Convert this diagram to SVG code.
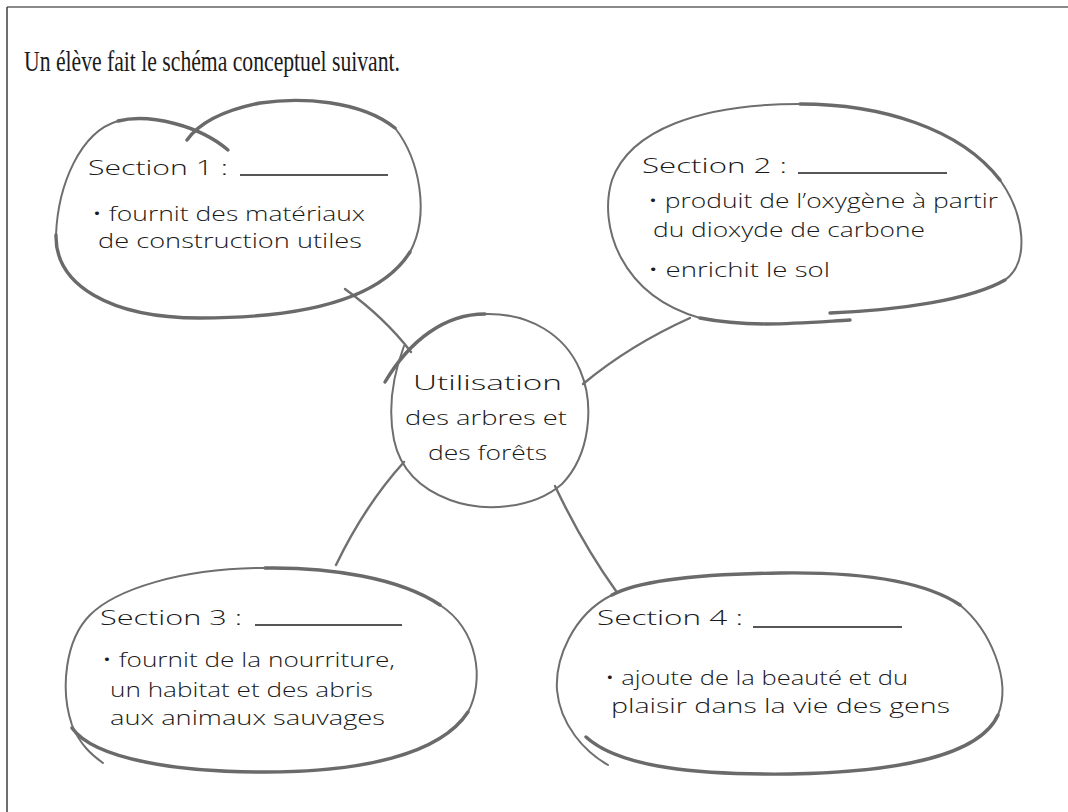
<svg xmlns="http://www.w3.org/2000/svg" width="1068" height="812" viewBox="0 0 1068 812">
  <style>
    .title { font-family: "Liberation Serif", serif; font-size: 30px; fill: #1a1a1a; }
    .hand { font-family: "Open Sans", "Noto Sans", sans-serif; font-weight: 300; font-size: 21px; fill: #1a1a1a; }
    .outline { fill: none; stroke: #6e6e6e; stroke-width: 2; stroke-linecap: round; }
    .heavy { fill: none; stroke: #6a6a6a; stroke-width: 3.4; stroke-linecap: round; }
    .link { fill: none; stroke: #707070; stroke-width: 2.4; stroke-linecap: round; }
    .blank { stroke: #1e1e1e; stroke-width: 1.5; }
  </style>

  <rect width="1068" height="812" fill="#ffffff"/>

  <!-- page frame: top and left rules -->
  <line x1="7" y1="7" x2="1068" y2="7" stroke="#8a8a8a" stroke-width="2"/>
  <line x1="7" y1="7" x2="7" y2="812" stroke="#4a4a4a" stroke-width="1.6"/>

  <text class="title" x="24" y="71" textLength="376" lengthAdjust="spacingAndGlyphs">Un élève fait le schéma conceptuel suivant.</text>

  <!-- connectors between the centre and each section -->
  <g id="connectors">
    <path class="link" d="M 345,289 Q 385,318 411,352"/>
    <path class="link" d="M 583,384 Q 630,345 690,318"/>
    <path class="link" d="M 404,462 Q 365,505 336,565"/>
    <path class="link" d="M 555,486 Q 583,545 616,591"/>
  </g>

  <!-- centre -->
  <g id="centre">
    <path class="heavy" d="M 385,382 C 410,340 445,314 485,314"/>
    <path class="outline" d="M 485,314 C 530,313 565,335 580,370 C 595,405 590,455 562,484 C 532,510 482,512 450,500 C 418,488 400,468 394,440 C 388,410 392,378 404,346"/>
    <text class="hand" x="413" y="390" textLength="149" lengthAdjust="spacingAndGlyphs">Utilisation</text>
    <text class="hand" x="405" y="425" textLength="162" lengthAdjust="spacingAndGlyphs">des arbres et</text>
    <text class="hand" x="428" y="460" textLength="119" lengthAdjust="spacingAndGlyphs">des forêts</text>
  </g>

  <!-- section 1 -->
  <g id="section1">
    <path class="heavy" d="M 228,150 C 200,126 150,113 118,121"/>
    <path class="outline" d="M 118,121 C 80,132 58,185 56,235"/>
    <path class="heavy" d="M 56,235 C 55,285 110,318 200,318 C 300,318 380,300 410,252"/>
    <path class="outline" d="M 410,252 C 430,215 420,160 395,128"/>
    <path class="heavy" d="M 395,128 C 360,100 300,97 260,103 C 225,110 200,122 187,140"/>
    <text class="hand" x="88" y="175" textLength="140" lengthAdjust="spacingAndGlyphs">Section 1 :</text>
    <line class="blank" x1="240" y1="175" x2="388" y2="175"/>
    <text class="hand" x="92" y="221" textLength="273" lengthAdjust="spacingAndGlyphs">• fournit des matériaux</text>
    <text class="hand" x="98" y="248" textLength="264" lengthAdjust="spacingAndGlyphs">de construction utiles</text>
  </g>

  <!-- section 2 -->
  <g id="section2">
    <path class="heavy" d="M 830,313 C 900,310 970,300 1005,280"/>
    <path class="outline" d="M 1005,280 C 1030,262 1025,215 1000,180"/>
    <path class="heavy" d="M 1000,180 C 960,128 880,104 800,104"/>
    <path class="outline" d="M 800,104 C 700,104 630,130 612,180 C 598,225 620,295 700,318"/>
    <path class="heavy" d="M 700,318 C 750,328 800,323 850,320"/>
    <text class="hand" x="642" y="173" textLength="145" lengthAdjust="spacingAndGlyphs">Section 2 :</text>
    <line class="blank" x1="798" y1="173" x2="947" y2="173"/>
    <text class="hand" x="648" y="208" textLength="350" lengthAdjust="spacingAndGlyphs">• produit de l’oxygène à partir</text>
    <text class="hand" x="653" y="237" textLength="272" lengthAdjust="spacingAndGlyphs">du dioxyde de carbone</text>
    <text class="hand" x="648" y="277" textLength="182" lengthAdjust="spacingAndGlyphs">• enrichit le sol</text>
  </g>

  <!-- section 3 -->
  <g id="section3">
    <path class="heavy" d="M 72,728 C 95,760 180,772 265,772 C 360,772 440,755 468,712"/>
    <path class="outline" d="M 468,712 C 485,680 478,630 440,605"/>
    <path class="heavy" d="M 440,605 C 400,578 330,567 265,568"/>
    <path class="outline" d="M 265,568 C 180,568 115,590 90,615 C 65,640 60,690 72,725 C 80,745 92,755 103,763"/>
    <text class="hand" x="100" y="625" textLength="142" lengthAdjust="spacingAndGlyphs">Section 3 :</text>
    <line class="blank" x1="255" y1="625" x2="402" y2="625"/>
    <text class="hand" x="102" y="667" textLength="293" lengthAdjust="spacingAndGlyphs">• fournit de la nourriture,</text>
    <text class="hand" x="110" y="697" textLength="263" lengthAdjust="spacingAndGlyphs">un habitat et des abris</text>
    <text class="hand" x="110" y="725" textLength="275" lengthAdjust="spacingAndGlyphs">aux animaux sauvages</text>
  </g>

  <!-- section 4 -->
  <g id="section4">
    <path class="heavy" d="M 586,737 C 620,768 700,775 790,774 C 900,772 980,755 998,715"/>
    <path class="outline" d="M 998,715 C 1012,680 990,630 960,605"/>
    <path class="heavy" d="M 960,605 C 920,578 850,572 780,573 C 700,574 640,580 612,595"/>
    <path class="outline" d="M 612,595 C 572,615 555,660 557,690 C 560,725 585,752 608,765"/>
    <text class="hand" x="597" y="625" textLength="146" lengthAdjust="spacingAndGlyphs">Section 4 :</text>
    <line class="blank" x1="753" y1="627" x2="902" y2="627"/>
    <text class="hand" x="605" y="685" textLength="303" lengthAdjust="spacingAndGlyphs">• ajoute de la beauté et du</text>
    <text class="hand" x="611" y="713" textLength="339" lengthAdjust="spacingAndGlyphs">plaisir dans la vie des gens</text>
  </g>
</svg>
